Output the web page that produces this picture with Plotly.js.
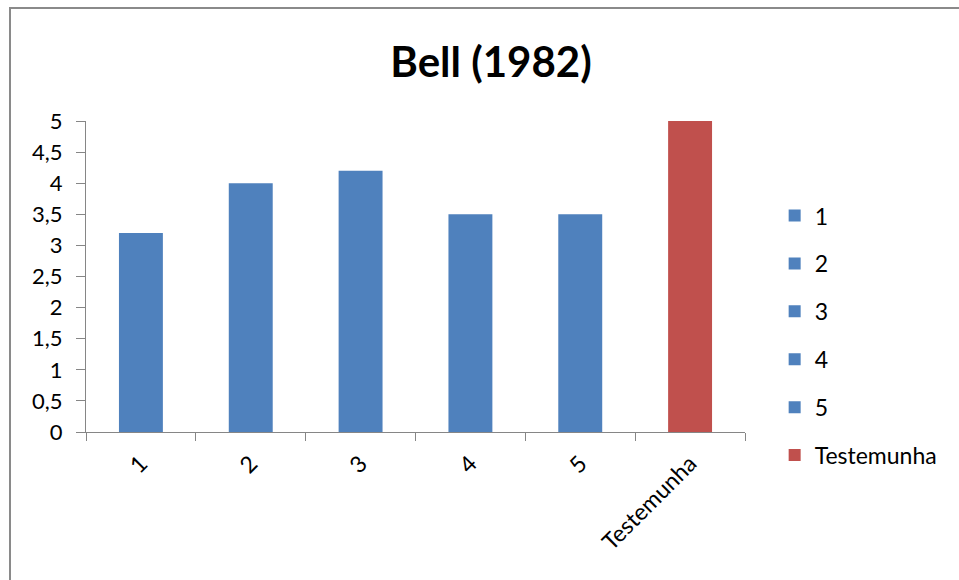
<!DOCTYPE html>
<html>
<head>
<meta charset="utf-8">
<script src="https://cdn.plot.ly/plotly-3.0.1.min.js"></script>
<style>
  html, body { margin: 0; padding: 0; background: #fff; overflow: hidden; }
  #frame { position: absolute; left: 9px; top: 7px; width: 1000px; height: 1000px;
           border-left: 2px solid #8a8a8a; border-top: 2px solid #8a8a8a; }
  #chart { position: absolute; left: 0; top: 0; width: 959px; height: 580px; }
</style>
</head>
<body>
<div id="frame"></div>
<div id="chart"></div>
<script>
const categories = ["1", "2", "3", "4", "5", "Testemunha"];
const values = [3.2, 4.0, 4.2, 3.5, 3.5, 5.0];
const barColors = ["#4F81BD", "#4F81BD", "#4F81BD", "#4F81BD", "#4F81BD", "#C0504D"];
const yTicks = [0, 0.5, 1, 1.5, 2, 2.5, 3, 3.5, 4, 4.5, 5];

const FONT = "Lato, 'Open Sans', sans-serif";

const traces = categories.map((c, i) => ({
  type: "bar",
  name: c,
  x: [c],
  y: [values[i]],
  width: 0.4,
  legendgroup: "g" + i,
  marker: { color: barColors[i], line: { width: 0 } },
  hoverinfo: "x+y"
}));

const layout = {
  width: 959,
  height: 580,
  paper_bgcolor: "rgba(0,0,0,0)",
  plot_bgcolor: "rgba(0,0,0,0)",
  separators: ",.",
  margin: { l: 86, r: 214, t: 120.5, b: 147.5, pad: 0 },
  barmode: "overlay",
  title: {
    text: "<b>Bell (1982)</b>",
    font: { family: FONT, size: 42, color: "#000" },
    x: 0.512, xanchor: "center",
    y: 0.893, yanchor: "middle"
  },
  xaxis: {
    type: "category",
    categoryorder: "array",
    categoryarray: categories,
    showline: true, linecolor: "#868686", linewidth: 1,
    ticks: "outside", tickson: "boundaries", ticklen: 8, tickcolor: "#868686", tickwidth: 1,
    tickangle: -45,
    ticklabelstandoff: 8,
    tickfont: { family: FONT, size: 23, color: "#000" },
    showgrid: false, zeroline: false
  },
  yaxis: {
    range: [0, 5],
    tickmode: "array",
    tickvals: yTicks,
    showline: true, linecolor: "#868686", linewidth: 1,
    ticks: "outside", ticklen: 9, tickcolor: "#868686", tickwidth: 1,
    ticklabelstandoff: 9,
    tickfont: { family: FONT, size: 22, color: "#000" },
    showgrid: false, zeroline: false
  },
  showlegend: true,
  legend: {
    x: 1.045, xanchor: "left",
    y: 0.765, yanchor: "top",
    font: { family: FONT, size: 23, color: "#000" },
    tracegroupgap: 15,
    traceorder: "grouped",
    itemwidth: 30,
    bgcolor: "rgba(0,0,0,0)"
  }
};

Plotly.newPlot("chart", traces, layout, { displayModeBar: false, staticPlot: true });
</script>
</body>
</html>
